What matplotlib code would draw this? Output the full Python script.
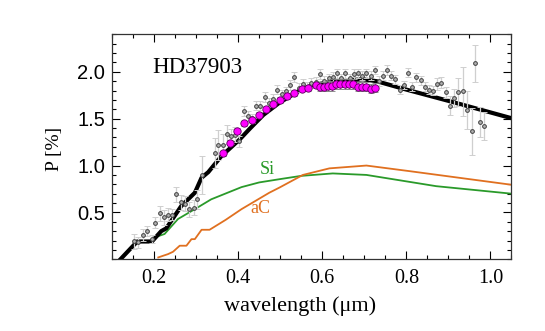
import matplotlib
matplotlib.use('Agg')
import matplotlib.pyplot as plt
from matplotlib.ticker import MultipleLocator, FixedLocator

# model curve (black)
model_x = [0.12, 0.16, 0.195, 0.217, 0.229, 0.265, 0.297, 0.313, 0.329, 0.36, 0.404,
           0.427, 0.46, 0.498, 0.55, 0.578, 0.62, 0.66, 0.697, 0.729, 0.8, 0.9, 1.05]
model_y = [0.0, 0.19, 0.19, 0.30, 0.33, 0.57, 0.71, 0.87, 0.93, 1.10, 1.28,
           1.39, 1.54, 1.67, 1.81, 1.86, 1.89, 1.91, 1.92, 1.90, 1.81, 1.69, 1.505]

# silicate component (green)
si_x = [0.201, 0.225, 0.257, 0.297, 0.336, 0.408, 0.45, 0.499, 0.55, 0.625, 0.705, 0.871, 1.05]
si_y = [0.233, 0.27, 0.43, 0.535, 0.64, 0.77, 0.82, 0.855, 0.89, 0.916, 0.90, 0.78, 0.70]

# amorphous carbon component (orange)
ac_x = [0.21, 0.221, 0.233, 0.245, 0.261, 0.277, 0.289, 0.297, 0.313, 0.332, 0.37, 0.408,
        0.474, 0.499, 0.554, 0.617, 0.705, 0.808, 1.05]
ac_y = [0.02, 0.037, 0.055, 0.08, 0.145, 0.145, 0.215, 0.215, 0.315, 0.315, 0.42, 0.535,
        0.71, 0.767, 0.90, 0.97, 1.00, 0.94, 0.795]

# observed polarization (grey)
obs_x = [0.152, 0.162, 0.174, 0.183, 0.194, 0.203, 0.213, 0.224, 0.233, 0.243, 0.253, 0.263,
         0.273, 0.283, 0.294, 0.303, 0.313, 0.344, 0.353, 0.363, 0.374, 0.383, 0.393, 0.403,
         0.413, 0.423, 0.433, 0.443, 0.453, 0.463, 0.473, 0.482, 0.493, 0.504, 0.514, 0.524,
         0.534, 0.544, 0.554, 0.563, 0.574, 0.584, 0.594, 0.604, 0.615, 0.625, 0.635, 0.645,
         0.655, 0.665, 0.675, 0.685, 0.695, 0.705, 0.715, 0.725, 0.734, 0.744, 0.754, 0.764,
         0.774, 0.784, 0.794, 0.804, 0.814, 0.824, 0.834, 0.844, 0.854, 0.863, 0.874, 0.883,
         0.894, 0.904, 0.914, 0.924, 0.935, 0.944, 0.955, 0.964, 0.974, 0.984]
obs_y = [0.19, 0.18, 0.26, 0.30, 0.215, 0.39, 0.49, 0.45, 0.475, 0.475, 0.695, 0.61,
         0.59, 0.535, 0.55, 0.64, 0.90, 1.13, 1.22, 1.22, 1.335, 1.31, 1.33, 1.26,
         1.58, 1.53, 1.505, 1.64, 1.64, 1.73, 1.67, 1.71, 1.81, 1.76, 1.79, 1.86,
         1.945, 1.83, 1.87, 1.84, 1.88, 1.89, 1.975, 1.90, 1.93, 1.945, 1.985, 1.93,
         1.985, 1.93, 1.975, 1.985, 1.96, 1.985, 1.96, 2.02, 1.90, 1.96, 2.02, 1.96,
         1.92, 1.81, 1.86, 1.99, 1.84, 1.94, 1.91, 1.84, 1.81, 1.80, 1.87, 1.885,
         1.78, 1.64, 1.72, 1.78, 1.79, 1.59, 1.365, 2.09, 1.46, 1.42]
obs_err = [0.08, 0.06, 0.06, 0.05, 0.04, 0.06, 0.08, 0.08, 0.07, 0.06, 0.08, 0.08,
           0.08, 0.08, 0.08, 0.10, 0.20, 0.16, 0.16, 0.12, 0.10, 0.08, 0.08, 0.06,
           0.05, 0.05, 0.05, 0.05, 0.05, 0.05, 0.05, 0.05, 0.05, 0.05, 0.05, 0.05,
           0.05, 0.05, 0.05, 0.05, 0.05, 0.05, 0.05, 0.05, 0.05, 0.05, 0.05, 0.05,
           0.05, 0.05, 0.05, 0.05, 0.05, 0.05, 0.05, 0.04, 0.05, 0.05, 0.05, 0.05,
           0.05, 0.05, 0.04, 0.05, 0.05, 0.05, 0.05, 0.05, 0.05, 0.05, 0.06, 0.06,
           0.06, 0.10, 0.10, 0.15, 0.26, 0.20, 0.25, 0.20, 0.16, 0.15]

# second data set (magenta)
mag_x = [0.363, 0.381, 0.398, 0.415, 0.432, 0.449, 0.467, 0.483, 0.50, 0.517, 0.534, 0.551,
         0.567, 0.584, 0.594, 0.603, 0.613, 0.623, 0.633, 0.643, 0.653, 0.663, 0.672, 0.684,
         0.695, 0.705, 0.715, 0.725]
mag_y = [1.13, 1.245, 1.37, 1.45, 1.49, 1.54, 1.60, 1.655, 1.70, 1.74, 1.77, 1.82,
         1.83, 1.86, 1.84, 1.84, 1.85, 1.85, 1.87, 1.87, 1.87, 1.87, 1.87, 1.84,
         1.84, 1.84, 1.82, 1.83]
mag_err = [0.03] * 14 + [0.05] * 14

xticks = [0.2, 0.4, 0.6, 0.8, 1.0]
yticks = [0.5, 1.0, 1.5, 2.0]

serif = 'Liberation Serif'
sans = 'Liberation Sans'

fig = plt.figure(figsize=(5.45, 3.31), dpi=100)
ax = fig.add_axes([0.2055, 0.2166, 0.733, 0.6798])

ax.plot(model_x, model_y, color='black', lw=3.0, zorder=3)
ax.plot(si_x, si_y, color='#2a9a2a', lw=1.3, zorder=2)
ax.plot(ac_x, ac_y, color='#e07020', lw=1.3, zorder=2)

ax.errorbar(obs_x, obs_y, yerr=obs_err, fmt='o', ms=2.7, mfc='#b0b0b0', mec='#404040',
            mew=0.7, ecolor='#cfcfcf', elinewidth=0.9, capsize=2.5, capthick=0.9, zorder=4)
ax.errorbar(mag_x, mag_y, yerr=mag_err, fmt='o', ms=5.3, mfc='#ff00ff', mec='#600060',
            mew=0.6, ecolor='#808080', elinewidth=0.9, capsize=2.5, capthick=0.9, zorder=5)

ax.text(0.196, 1.985, 'HD37903', fontsize=16.5, family=serif, color='black')
ax.text(0.451, 0.91, 'Si', fontsize=13, family=serif, color='#2a9a2a')
ax.text(0.429, 0.49, 'aC', fontsize=13, family=serif, color='#e07020')

ax.set_xlim(0.1, 1.05)
ax.set_ylim(0.0, 2.4)

ax.xaxis.set_major_locator(FixedLocator(xticks))
ax.xaxis.set_minor_locator(MultipleLocator(0.05))
ax.yaxis.set_major_locator(FixedLocator(yticks))
ax.yaxis.set_minor_locator(MultipleLocator(0.1))
ax.set_xticklabels([f'{v:.1f}' for v in xticks], family=serif, fontsize=14.5)
ax.set_yticklabels([f'{v:.1f}' for v in yticks], family=sans, fontsize=14.5)

ax.tick_params(which='both', direction='in', top=True, right=True, width=0.8)
ax.tick_params(which='major', length=6)
ax.tick_params(which='minor', length=3)
ax.tick_params(axis='x', pad=7)
ax.tick_params(axis='y', pad=5)
for sp in ax.spines.values():
    sp.set_linewidth(0.9)
    sp.set_color('#333333')

ax.set_xlabel('wavelength (μm)', family=serif, fontsize=16)
ax.set_ylabel('P [%]', family=serif, fontsize=14)
ax.xaxis.set_label_coords(0.47, -0.165)
ax.yaxis.set_label_coords(-0.123, 0.49)

fig.savefig('out.png', dpi=100)
